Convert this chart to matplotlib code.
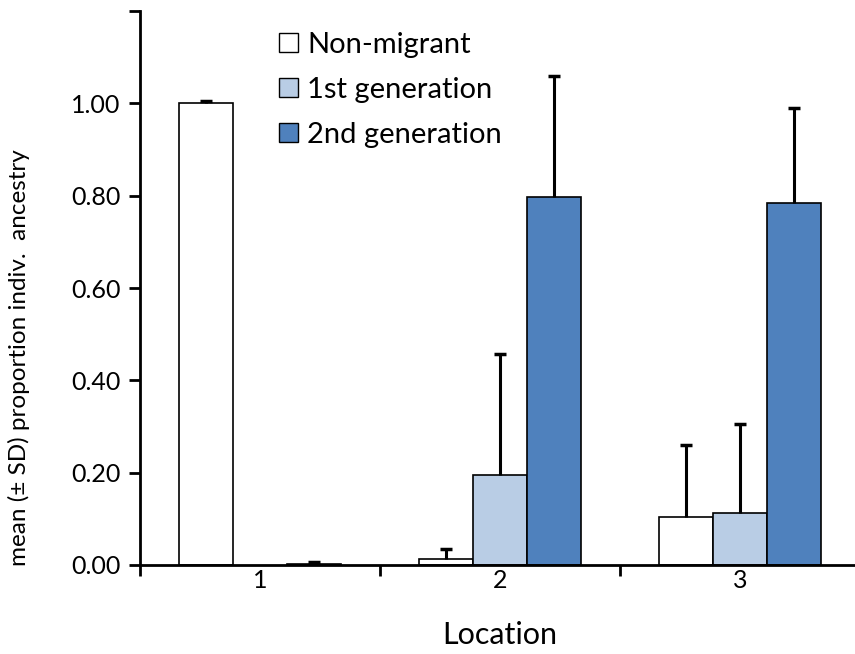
import numpy as np
import matplotlib
matplotlib.use("Agg")
import matplotlib.pyplot as plt
from matplotlib.ticker import FixedLocator

plt.rcParams["font.family"] = ["Lato", "DejaVu Sans"]

locations = ["1", "2", "3"]
series = ["Non-migrant", "1st generation", "2nd generation"]
non_migrant = [1.00, 0.012, 0.105]
non_migrant_sd = [0.004, 0.022, 0.155]
first_gen = [0.0, 0.195, 0.113]
first_gen_sd = [0.0, 0.263, 0.193]
second_gen = [0.003, 0.798, 0.785]
second_gen_sd = [0.003, 0.261, 0.204]
y_ticks = [0.0, 0.2, 0.4, 0.6, 0.8, 1.0, 1.2]
y_labels = ["0.00", "0.20", "0.40", "0.60", "0.80", "1.00", ""]

colors = ["#FFFFFF", "#B9CDE5", "#4F81BD"]

fig = plt.figure(figsize=(8.55, 6.54), dpi=100)
ax = fig.add_axes([140 / 855, 89 / 654, 720 / 855, 554 / 654])

x = np.arange(1, len(locations) + 1)
w = 0.225
vals = [non_migrant, first_gen, second_gen]
sds = [non_migrant_sd, first_gen_sd, second_gen_sd]
for i, (v, sd, c, name) in enumerate(zip(vals, sds, colors, series)):
    pos = x + (i - 1) * w
    bars = ax.bar(pos, v, width=w, color=c, edgecolor="black", linewidth=1.2,
                  label=name, zorder=2)
    for b in bars:
        if b.get_height() == 0:
            b.set_linewidth(0)
    # upper error bars only
    keep = np.array(sd) > 0
    _, caps, _ = ax.errorbar(pos[keep], np.array(v)[keep],
                             yerr=[np.zeros(keep.sum()), np.array(sd)[keep]],
                             fmt="none", ecolor="black", elinewidth=2.2,
                             capsize=4.5, capthick=2.5, zorder=3)
    caps[0].set_visible(False)

ax.set_xlim(0.5, 3.5)
ax.set_ylim(0, 1.2)
ax.set_yticks(y_ticks)
ax.set_yticklabels(y_labels)
ax.set_xticks(x)
ax.set_xticklabels(locations)
ax.xaxis.set_minor_locator(FixedLocator([0.5, 1.5, 2.5, 3.5]))
ax.tick_params(axis="x", which="major", length=0, labelsize=18, pad=3)
ax.tick_params(axis="x", which="minor", length=8, width=2, direction="out")
ax.tick_params(axis="y", length=8, width=2, direction="out", labelsize=18, pad=6)

for s in ["top", "right"]:
    ax.spines[s].set_visible(False)
ax.spines["left"].set_linewidth(2)
ax.spines["bottom"].set_linewidth(2)

ax.set_xlabel("Location", fontsize=22, labelpad=21)
ax.set_ylabel("mean (± SD) proportion indiv.  ancestry", fontsize=17.5)
ax.yaxis.set_label_coords(-0.153, 0.374)

leg = ax.legend(loc="upper left", bbox_to_anchor=(0.157, 1.01), frameon=False,
                fontsize=21, handlelength=0.65, handleheight=0.65,
                handletextpad=0.3, labelspacing=0.65)
for h in leg.legend_handles:
    h.set_edgecolor("black")
    h.set_linewidth(1.0)

fig.savefig("out.png", dpi=100)
